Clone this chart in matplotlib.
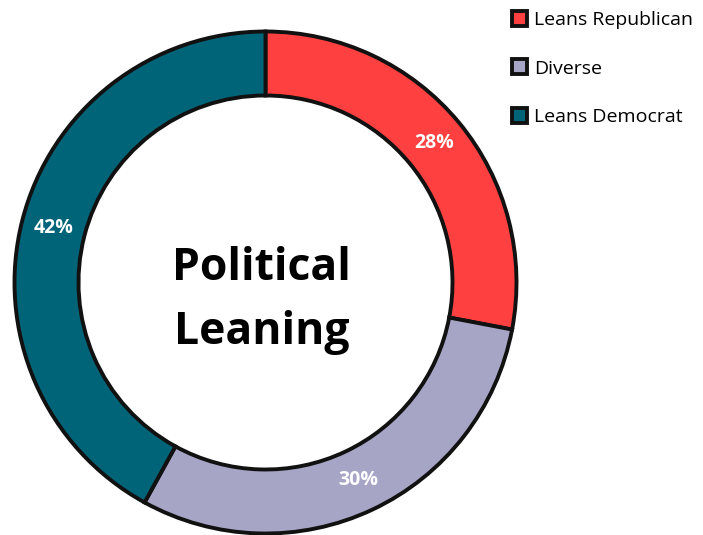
import matplotlib.pyplot as plt

labels = ["Leans Republican", "Diverse", "Leans Democrat"]
shares = [28, 30, 42]
colors = ["#FF4040", "#A7A5C6", "#006478"]

W, H = 703, 535
fig = plt.figure(figsize=(W / 100, H / 100), dpi=100)
ax = fig.add_axes([0, 0, 1, 1])

font = ["Open Sans", "DejaVu Sans"]
cx, cy, r = 265.5, H - 282.5, 251

wedges, texts, autotexts = ax.pie(
    shares, colors=colors, center=(cx, cy), radius=r,
    startangle=90, counterclock=False,
    autopct="%d%%", pctdistance=0.87,
    wedgeprops=dict(width=64, edgecolor="#111111", linewidth=2.8),
    textprops=dict(color="white", fontsize=14, fontweight="bold", family=font),
    frame=True,
)
ax.set_xlim(0, W)
ax.set_ylim(0, H)
ax.set_aspect("equal")
ax.axis("off")

ax.text(cx - 4, cy - 18, "Political\nLeaning", ha="center", va="center",
        fontsize=32, fontweight="bold", family=font, linespacing=1.55)

leg = fig.legend(wedges, labels, loc="upper left", bbox_to_anchor=(494 / W, 1.012),
                 frameon=False, handlelength=0.8, handleheight=0.8, handletextpad=0.35,
                 labelspacing=1.55, prop=dict(family=font, size=14))

fig.savefig("out.png", dpi=100)
